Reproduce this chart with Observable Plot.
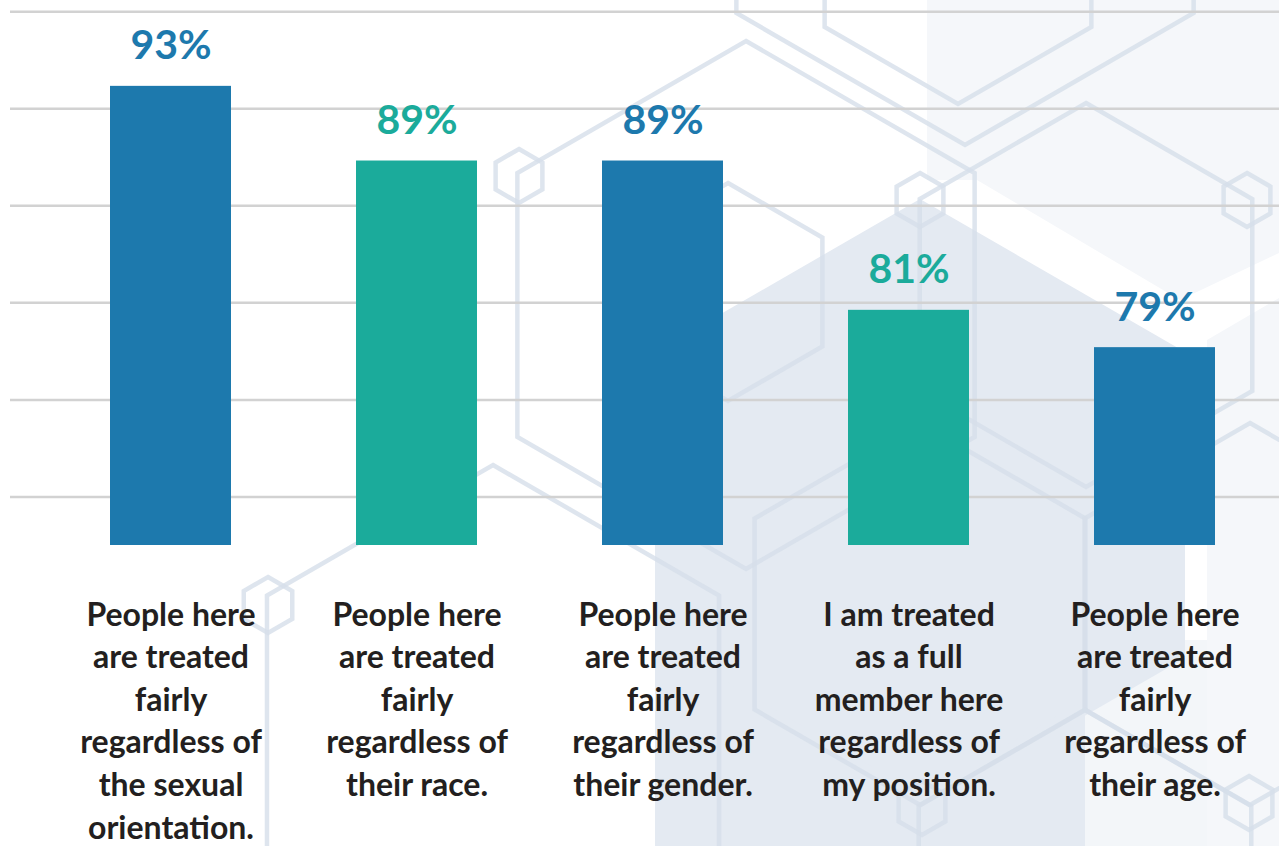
<!DOCTYPE html>
<html>
<head>
<meta charset="utf-8">
<script src="https://cdn.jsdelivr.net/npm/d3@7"></script>
<script src="https://cdn.jsdelivr.net/npm/@observablehq/plot@0.6"></script>
<style>
  html, body { margin: 0; padding: 0; background: #ffffff; }
  #wrap { position: relative; width: 1279px; height: 846px; overflow: hidden; background: #ffffff; }
  #wrap > svg { position: absolute; left: 0; top: 0; }
</style>
</head>
<body>
<div id="wrap"></div>
<script>
// ---- chart data ----
const categories = [
  "People here\nare treated\nfairly\nregardless of\nthe sexual\norientation.",
  "People here\nare treated\nfairly\nregardless of\ntheir race.",
  "People here\nare treated\nfairly\nregardless of\ntheir gender.",
  "I am treated\nas a full\nmember here\nregardless of\nmy position.",
  "People here\nare treated\nfairly\nregardless of\ntheir age."
];
const values = [93, 89, 89, 81, 79];
const barColors = ["#1d79ad", "#1bab9b", "#1d79ad", "#1bab9b", "#1d79ad"];
const gridValues = [71, 76.2, 81.4, 86.6, 91.8, 97];
const yBase = 68.4;
const yTop = 97.6;

// ---- decorative background (hexagon pattern) ----
const bgPanels = [
  {fill: "#f3f6f9", pts: [[655,640],[1279,640],[1279,846],[655,846]]},
  {fill: "#f5f7fa", pts: [[927,0],[1279,0],[1279,253],[1180,300],[977,180],[927,180]]},
  {fill: "#f5f7fa", pts: [[1207,340],[1279,298],[1279,846],[1207,846]]},
  {fill: "#e4eaf2", pts: [[655,640],[920,795],[1085,700],[1085,846],[655,846]]}
];
const bgHexFills = [{cx: 920, cy: 505, r: 306, fill: "#e4eaf2"}];
const bgHexLines = [
  {cx: 746, cy: 305, r: 264}, {cx: 965, cy: -119, r: 264}, {cx: 958, cy: -50, r: 154},
  {cx: 1086, cy: 295, r: 192}, {cx: 920, cy: 614, r: 191}, {cx: 1250, cy: 614, r: 191},
  {cx: 1085, cy: 902, r: 192}, {cx: 493, cy: 726, r: 261}, {cx: 728, cy: 292, r: 109},
  {cx: 519, cy: 176, r: 27}, {cx: 920, cy: 200, r: 27}, {cx: 1247, cy: 200, r: 27},
  {cx: 268, cy: 605, r: 28}, {cx: 922, cy: 808, r: 27}, {cx: 1249, cy: 803, r: 27}
];

function hexPoints(cx, cy, r) {
  return d3.range(6).map(i => {
    const a = Math.PI / 3 * i - Math.PI / 2;
    return [cx + r * Math.cos(a), cy + r * Math.sin(a)];
  });
}

const W = 1279, H = 846;
const wrap = document.getElementById("wrap");
const bg = d3.create("svg").attr("width", W).attr("height", H);
bg.append("g").selectAll("polygon").data(bgPanels.slice(0, 3)).join("polygon")
  .attr("points", d => d.pts.map(p => p.join(",")).join(" "))
  .attr("fill", d => d.fill);
bg.append("g").selectAll("polygon").data(bgHexFills).join("polygon")
  .attr("points", d => hexPoints(d.cx, d.cy, d.r).map(p => p.join(",")).join(" "))
  .attr("fill", d => d.fill);
bg.append("g").selectAll("polygon").data(bgPanels.slice(3)).join("polygon")
  .attr("points", d => d.pts.map(p => p.join(",")).join(" "))
  .attr("fill", d => d.fill);
bg.append("g").selectAll("polygon").data(bgHexLines).join("polygon")
  .attr("points", d => hexPoints(d.cx, d.cy, d.r).map(p => p.join(",")).join(" "))
  .attr("fill", "none")
  .attr("stroke", "#d6deea")
  .attr("stroke-opacity", 0.8)
  .attr("stroke-width", 4.5);
wrap.appendChild(bg.node());

// ---- chart ----
const data = categories.map((c, i) => ({cat: c, value: values[i], color: barColors[i]}));

const chart = Plot.plot({
  width: W,
  height: H,
  marginTop: 0,
  marginBottom: 301,
  marginLeft: 10,
  marginRight: 0,
  style: {background: "transparent", fontFamily: "Lato, 'Open Sans', sans-serif"},
  x: {axis: null, domain: categories, range: [46, 1279], paddingInner: 0.51, paddingOuter: 0.255},
  y: {axis: null, domain: [yBase, yTop]},
  color: {type: "identity"},
  marks: [
    Plot.ruleY(gridValues, {stroke: "#d2d2d2", strokeWidth: 2.5}),
    Plot.barY(data, {x: "cat", y1: yBase, y2: "value", fill: "color"}),
    Plot.text(data, {
      x: "cat", y: "value", text: d => d.value + "%", fill: "color",
      fontSize: 41, fontWeight: "bold", dy: -40
    }),
    Plot.text(data, {
      x: "cat", y: yBase, text: "cat", fill: "#231f20",
      fontSize: 32, fontWeight: "bold", lineAnchor: "top", lineHeight: 1.33, dy: 50
    })
  ]
});
wrap.appendChild(chart);
</script>
</body>
</html>
